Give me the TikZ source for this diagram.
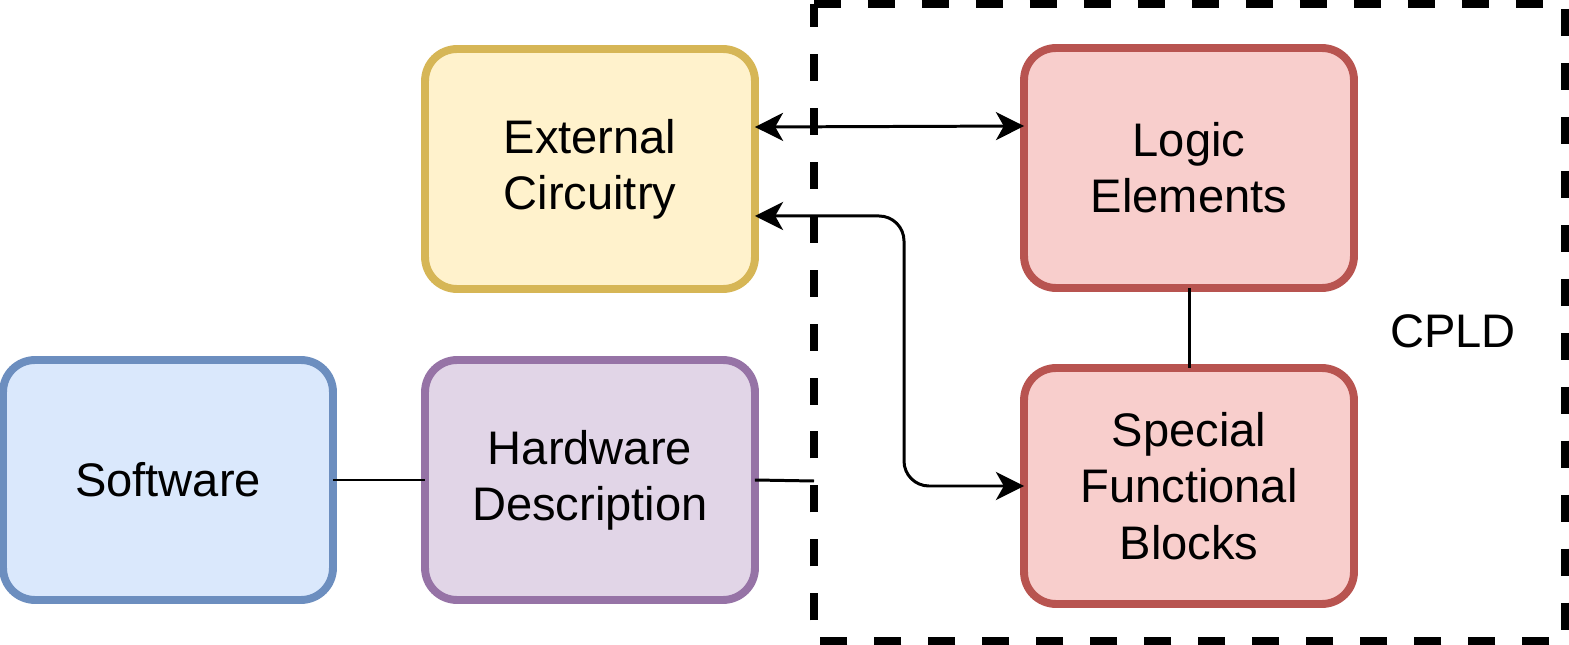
\documentclass[tikz,border=0pt]{standalone}
\usepackage{fontspec}
\setmainfont{Liberation Sans}
\usepackage{tikz}
\usetikzlibrary{positioning,arrows.meta}
\usepackage{xcolor}

\definecolor{extfill}{HTML}{FFF2CC}
\definecolor{extline}{HTML}{D6B656}
\definecolor{cpfill}{HTML}{F8CECC}
\definecolor{cpline}{HTML}{B85450}
\definecolor{swfill}{HTML}{DAE8FC}
\definecolor{swline}{HTML}{6C8EBF}
\definecolor{hwfill}{HTML}{E1D5E7}
\definecolor{hwline}{HTML}{9673A6}

\begin{document}
\begin{tikzpicture}[
          x=0.02cm, y=-0.02cm,
          every node/.style={font=\fontsize{26.8}{32}\selectfont},
          blk/.style={rounded corners=0.64cm,line width=4.5pt,outer sep=0pt,
            minimum width=6.6cm,minimum height=4.8cm,align=center,inner sep=0pt},
          link/.style={line width=1.7pt},
          >={Stealth[length=16pt,width=16pt,inset=4.5pt]},
        ]
        \useasboundingbox (0,0) rectangle (1569,645);
        % CPLD frame
        \draw[line width=4.5pt,dash pattern=on 0.54cm off 0.54cm]
          (814,4) -- (1565,4) -- (1565,641) -- (814,641) -- cycle;
        \node (cpld) at (1453,331) {CPLD};
        \coordinate (cin) at (814,481);
        % blocks
        \node[blk,fill=extfill,draw=extline] (ext)   at (590,169)  {External\\Circuitry};
        \node[blk,fill=cpfill,draw=cpline]   (logic) at (1189,168) {Logic\\Elements};
        \node[blk,fill=cpfill,draw=cpline,minimum height=4.72cm] (sfb) at (1189,486) {Special\\Functional\\Blocks};
        \node[blk,fill=swfill,draw=swline]   (sw)    at (168,480)  {Software};
        \node[blk,fill=hwfill,draw=hwline]   (hw)    at (590,480)  {Hardware\\Description};
        \coordinate (bend) at (904,0);
        % links
        \draw[link,<->] ([yshift=0.84cm]ext.east) -- ([yshift=0.84cm]logic.west);
        \draw[link,<->,rounded corners=0.5cm] ([yshift=-0.94cm]ext.east) -| (bend |- sfb.west) -- (sfb.west);
        \draw[link] (logic) -- (sfb);
        \draw[link] (sw) -- (hw);
        \draw[link] (hw.east) -- (cin);
      \end{tikzpicture}
\end{document}
